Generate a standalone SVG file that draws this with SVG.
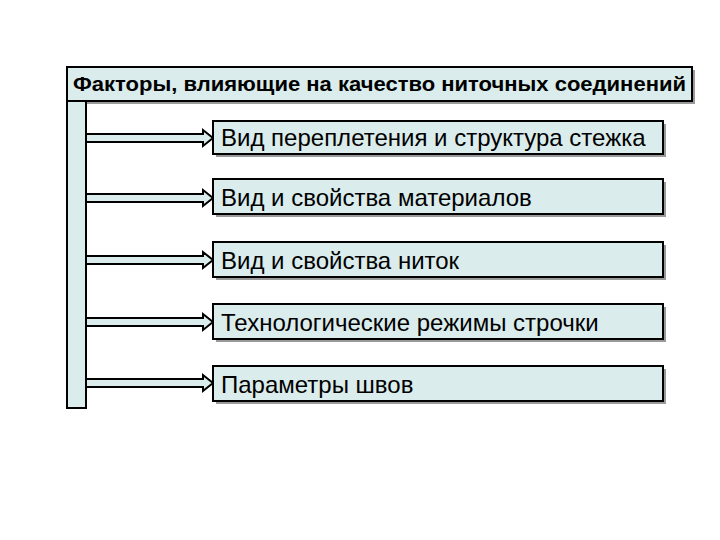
<svg xmlns="http://www.w3.org/2000/svg" width="720" height="540" viewBox="0 0 720 540">
<defs>
<style>
.b{fill:#daeceb;stroke:#000;stroke-width:2}
.s{fill:#9a9a9a}
.t{font-family:"Liberation Sans",Arial,sans-serif;font-size:24px;fill:#000}
.h{font-family:"Liberation Sans",Arial,sans-serif;font-size:20px;font-weight:bold;fill:#000}
.a{fill:#daeceb;stroke:#000;stroke-width:2;stroke-linejoin:miter}
</style>
</defs>
<rect width="720" height="540" fill="#fff"/>
<g id="header">
<rect class="s" x="70" y="70" width="625" height="34"/>
<rect class="b" x="67" y="67" width="625" height="34"/>
<text class="h" x="73" y="91" textLength="613" lengthAdjust="spacingAndGlyphs">Факторы, влияющие на качество ниточных соединений</text>
</g>
<g id="bar">
<rect class="b" x="67" y="101" width="19" height="307"/>
</g>
<g id="connectors">
<path class="a" d="M86,134 H203 V130 L213,138 L203,146 V142 H86 Z"/>
<path class="a" d="M86,194 H203 V190 L213,198 L203,206 V202 H86 Z"/>
<path class="a" d="M86,256 H203 V252 L213,260 L203,268 V264 H86 Z"/>
<path class="a" d="M86,318 H203 V314 L213,322 L203,330 V326 H86 Z"/>
<path class="a" d="M86,379 H203 V375 L213,383 L203,391 V387 H86 Z"/>
</g>
<g id="n1">
<rect class="s" x="216" y="124" width="450" height="33"/>
<rect class="b" x="213" y="121" width="450" height="33"/>
<text class="t" x="221" y="146">Вид переплетения и структура стежка</text>
</g>
<g id="n2">
<rect class="s" x="216" y="182" width="450" height="35"/>
<rect class="b" x="213" y="179" width="450" height="35"/>
<text class="t" x="221" y="206">Вид и свойства материалов</text>
</g>
<g id="n3">
<rect class="s" x="216" y="245" width="450" height="35"/>
<rect class="b" x="213" y="242" width="450" height="35"/>
<text class="t" x="221" y="269">Вид и свойства ниток</text>
</g>
<g id="n4">
<rect class="s" x="216" y="307" width="450" height="35"/>
<rect class="b" x="213" y="304" width="450" height="35"/>
<text class="t" x="221" y="331">Технологические режимы строчки</text>
</g>
<g id="n5">
<rect class="s" x="216" y="369" width="450" height="35"/>
<rect class="b" x="213" y="366" width="450" height="35"/>
<text class="t" x="221" y="393">Параметры швов</text>
</g>
</svg>
